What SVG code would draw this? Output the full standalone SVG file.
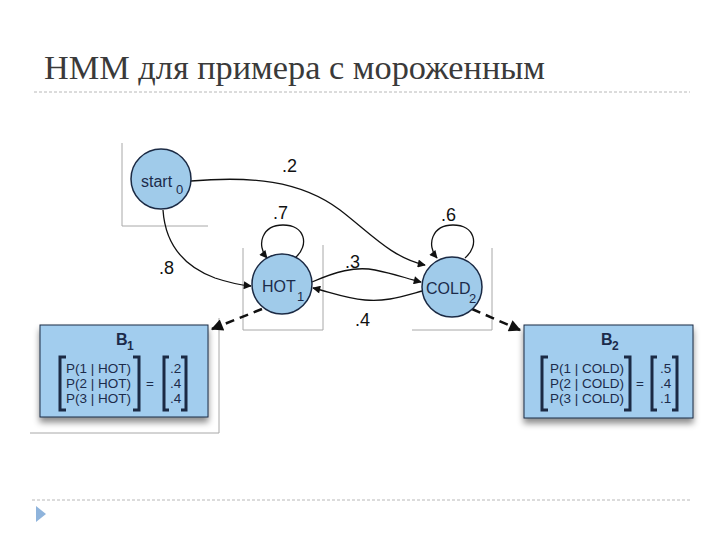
<svg xmlns="http://www.w3.org/2000/svg" width="720" height="540" viewBox="0 0 720 540">
<defs>
<marker id="arr" viewBox="0 0 10 10" refX="9" refY="5" markerWidth="10" markerHeight="8" markerUnits="userSpaceOnUse" orient="auto"><path d="M0,0 L10,5 L0,10 z" fill="#111"/></marker>
<marker id="arrB" viewBox="0 0 10 10" refX="9" refY="5" markerWidth="15" markerHeight="12" markerUnits="userSpaceOnUse" orient="auto"><path d="M0,0 L10,5 L0,10 z" fill="#111"/></marker>
<filter id="sh" x="-10%" y="-10%" width="125%" height="145%"><feDropShadow dx="0" dy="5" stdDeviation="3" flood-color="#000" flood-opacity="0.45"/></filter>
</defs>
<style>
.node{fill:#a0cbea;stroke:#1b2a44;stroke-width:1.5}
.lbl{font-family:"Liberation Sans",Arial,sans-serif;font-size:18px;fill:#111}
.nt{font-family:"Liberation Sans",Arial,sans-serif;font-size:16px;fill:#1c2b4a}
.sub{font-family:"Liberation Sans",Arial,sans-serif;font-size:13px;fill:#1c2b4a}
.frame{stroke:#a8a8a8;stroke-width:1;fill:none}
.edge{fill:none;stroke:#111;stroke-width:1.3}
.dash{fill:none;stroke:#111;stroke-width:2.5;stroke-dasharray:9,6}
.box{fill:#a2cdee;stroke:#1b2a44;stroke-width:1}
.mt{font-family:"Liberation Sans",Arial,sans-serif;font-size:13.5px;fill:#1c2b4a}
.bt{font-family:"Liberation Sans",Arial,sans-serif;font-size:16px;font-weight:bold;fill:#1c2b4a}
.bs{font-family:"Liberation Sans",Arial,sans-serif;font-size:12px;font-weight:bold;fill:#1c2b4a}
.br{fill:none;stroke:#1b2a44;stroke-width:3}
.rule{stroke:#b8b8b8;stroke-width:1;stroke-dasharray:3,2}
</style>
<rect width="720" height="540" fill="#fff"/>
<text x="44" y="79" font-family="'Liberation Serif','DejaVu Serif',serif" font-size="33" fill="#3a3a3a" textLength="501" lengthAdjust="spacingAndGlyphs">HMM  для примера с мороженным</text>
<line class="rule" x1="34" y1="92" x2="690" y2="92"/>
<line class="rule" x1="32" y1="500" x2="690" y2="500"/>
<polygon points="36,506 46,514 36,522" fill="#8fb4dc"/>

<g id="frames">
<path class="frame" d="M122,143 V226 H208"/>
<path class="frame" d="M243,248 V330 H323 V245"/>
<path class="frame" d="M412,330 H492 V248"/>
<path class="frame" d="M30,433 H219 V318"/>
</g>

<g id="connectors">
<path class="edge" d="M191,181 C 250,176 300,180 340,210 C 370,233 392,258 425,265" marker-end="url(#arr)"/>
<path class="edge" d="M163,210 C 165,240 180,265 215,278 C 230,283 240,285 251,286" marker-end="url(#arr)"/>
<path class="edge" d="M295,258 C 310,245 305,225 283,225 C 262,225 256,245 267,258" marker-end="url(#arr)"/>
<path class="edge" d="M465,258 C 480,245 475,225 453,225 C 432,225 426,245 437,258" marker-end="url(#arr)"/>
<path class="edge" d="M312,282 C 335,272 355,266 375,270 C 395,274 405,278 421,282" marker-end="url(#arr)"/>
<path class="edge" d="M422,291 C 400,297 385,302 365,300 C 345,298 330,292 313,288" marker-end="url(#arr)"/>
<path class="dash" d="M262,309 L212,329" marker-end="url(#arrB)"/>
<path class="dash" d="M472,309 L520,330" marker-end="url(#arrB)"/>
<text class="lbl" x="282" y="172">.2</text>
<text class="lbl" x="273" y="219">.7</text>
<text class="lbl" x="441" y="221">.6</text>
<text class="lbl" x="159" y="274">.8</text>
<text class="lbl" x="345" y="268">.3</text>
<text class="lbl" x="355" y="326">.4</text>
</g>

<g id="start0">
<circle class="node" cx="161" cy="179" r="30"/>
<text class="nt" x="141" y="187">start</text>
<text class="sub" x="176" y="194">0</text>
</g>
<g id="hot1">
<circle class="node" cx="282" cy="284" r="30"/>
<text class="nt" x="262" y="292">HOT</text>
<text class="sub" x="297" y="301">1</text>
</g>
<g id="cold2">
<circle class="node" cx="452" cy="287" r="30"/>
<text class="nt" x="426" y="294">COLD</text>
<text class="sub" x="469" y="303">2</text>
</g>

<g id="b1">
<rect class="box" x="40" y="325" width="168" height="92" filter="url(#sh)"/>
<text class="bt" x="116" y="345">B</text>
<text class="bs" x="127" y="350">1</text>
<path class="br" d="M66,357 H60 V410 H66"/>
<path class="br" d="M133,357 H139 V410 H133"/>
<text class="mt" x="66" y="373">P(1 | HOT)</text>
<text class="mt" x="66" y="388">P(2 | HOT)</text>
<text class="mt" x="66" y="403">P(3 | HOT)</text>
<text class="mt" x="146" y="388">=</text>
<path class="br" d="M169,357 H164 V410 H169"/>
<path class="br" d="M181,357 H186 V410 H181"/>
<text class="mt" x="170" y="373">.2</text>
<text class="mt" x="170" y="388">.4</text>
<text class="mt" x="170" y="403">.4</text>
</g>

<g id="b2">
<rect class="box" x="524" y="325" width="169" height="93" filter="url(#sh)"/>
<text class="bt" x="601" y="345">B</text>
<text class="bs" x="612" y="350">2</text>
<path class="br" d="M548,357 H542 V410 H548"/>
<path class="br" d="M624,357 H630 V410 H624"/>
<text class="mt" x="550" y="373">P(1 | COLD)</text>
<text class="mt" x="550" y="388">P(2 | COLD)</text>
<text class="mt" x="550" y="403">P(3 | COLD)</text>
<text class="mt" x="636" y="388">=</text>
<path class="br" d="M657,357 H652 V410 H657"/>
<path class="br" d="M672,357 H677 V410 H672"/>
<text class="mt" x="660" y="373">.5</text>
<text class="mt" x="660" y="388">.4</text>
<text class="mt" x="660" y="403">.1</text>
</g>
</svg>
